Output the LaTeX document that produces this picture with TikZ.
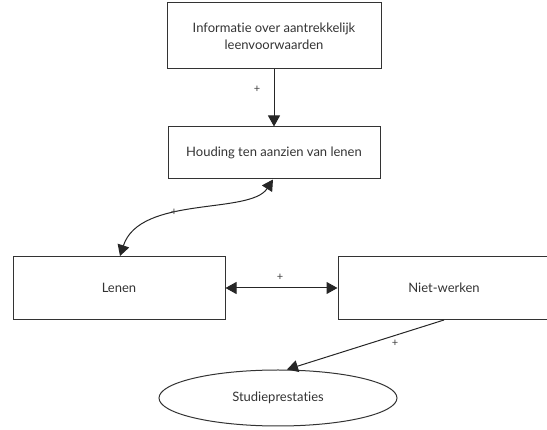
\documentclass[tikz,border=0pt]{standalone}
\usepackage{fontspec}
\setmainfont{Lato}[Ligatures=NoCommon]
\usetikzlibrary{arrows.meta,shapes.geometric}

\begin{document}
\begin{tikzpicture}[
    x=1pt, y=-1pt,
    box/.style={rectangle, draw=black!80, line width=1pt, align=center, font=\fontsize{13}{17}\selectfont, text=black!80, inner sep=0pt},
    oval/.style={ellipse, draw=black!80, line width=1pt, font=\fontsize{13}{17}\selectfont, text=black!80, inner sep=0pt},
    arrow/.style={-{Triangle[length=11pt,width=12pt]}, draw=black!85, line width=1pt},
    dblarrow/.style={{Triangle[length=11pt,width=12pt]}-{Triangle[length=11pt,width=12pt]}, draw=black!85, line width=1pt},
    lbl/.style={font=\fontsize{11}{12}\selectfont, text=black!75, inner sep=1pt}
]
\useasboundingbox (0,0) rectangle (547,430);

% Top row
\node[box, minimum width=214pt, minimum height=66pt] (info) at (274,36) {Informatie over aantrekkelijk\\leenvoorwaarden};
\node[box, minimum width=212pt, minimum height=52pt] (houding) at (274,153) {Houding ten aanzien van lenen};

% Middle row
\node[box, minimum width=212pt, minimum height=63pt] (lenen) at (119,288) {Lenen};
\node[box, minimum width=212pt, minimum height=63pt] (niet) at (444,288) {Niet-werken};

% Bottom
\node[oval, minimum width=238pt, minimum height=56pt] (studie) at (278,398) {Studieprestaties};

% Connections
\draw[arrow] (info) -- (houding);
\node[lbl] (p1) at (257,89) {+};

\draw[dblarrow] (houding.south) ++(-1,0) coordinate (hs)
    (hs) .. controls (250,215) and (140,195) .. ([xshift=1pt]lenen.north);
\node[lbl] (p2) at (174,212) {+};

\draw[dblarrow] (lenen) -- (niet);
\node[lbl] (p3) at (280,277) {+};

\draw[arrow] (niet.south) -- ([xshift=9pt]studie.north);
\node[lbl] (p4) at (395,343) {+};

\end{tikzpicture}
\end{document}
